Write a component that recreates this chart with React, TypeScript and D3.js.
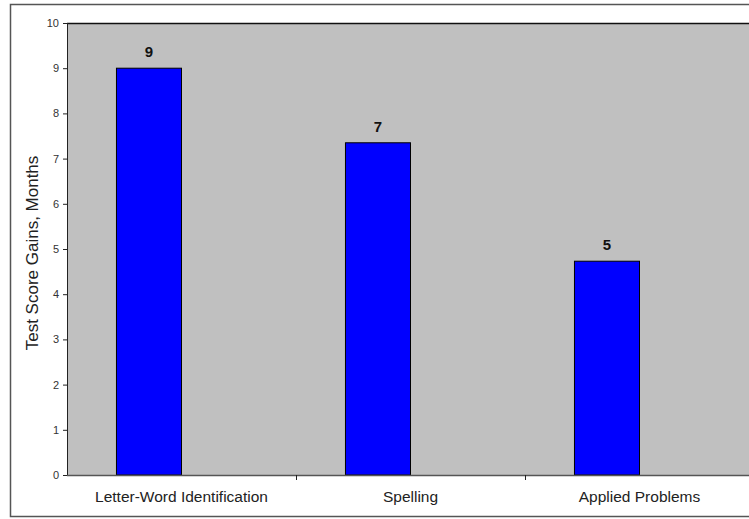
import React from "react";
import * as d3 from "d3";

const categories = ["Letter-Word Identification", "Spelling", "Applied Problems"];
const values = [9.0, 7.35, 4.73];
const valueLabels = ["9", "7", "5"];
const yTicks = [0, 1, 2, 3, 4, 5, 6, 7, 8, 9, 10];
const yTitle = "Test Score Gains, Months";

export default function App() {
  const W = 749, H = 519;
  const left = 67, top = 23, bottom = 475, right = 754;
  const x = d3.scaleBand<string>().domain(categories).range([left, right]).paddingInner(0).paddingOuter(0);
  const y = d3.scaleLinear().domain([0, 10]).range([bottom, top]);
  const bw = x.bandwidth() * 0.284;
  const font = "'Liberation Sans', Arial, sans-serif";
  return (
    <svg width={W} height={H} style={{ position: "absolute", left: 0, top: 0, display: "block" }} fontFamily={font}>
      <rect x={0} y={0} width={W} height={H} fill="#fff" />
      <rect x={10.5} y={4.5} width={W + 10} height={512} fill="#fff" stroke="#555" strokeWidth={1.5} />
      <rect x={left} y={top} width={right - left} height={bottom - top} fill="#c0c0c0" />
      <line x1={left} x2={right} y1={top + 0.5} y2={top + 0.5} stroke="#111" strokeWidth={1.5} />
      {categories.map((c, i) => {
        const cx = x(c)! + x.bandwidth() / 2;
        const bx = cx - bw;
        return (
          <g key={c}>
            <rect x={bx} y={y(values[i])} width={bw} height={bottom - y(values[i])} fill="#0000ff" stroke="#000" strokeWidth={1} />
            <text x={bx + bw / 2} y={y(values[i]) - 11} textAnchor="middle" fontSize={15} fontWeight="bold" fill="#111">{valueLabels[i]}</text>
            <text x={cx} y={502} textAnchor="middle" fontSize={15.5} fill="#222">{c}</text>
          </g>
        );
      })}
      <line x1={left + 0.5} x2={left + 0.5} y1={top} y2={bottom} stroke="#222" strokeWidth={1} />
      <line x1={left} x2={right} y1={bottom + 0.5} y2={bottom + 0.5} stroke="#555" strokeWidth={1.5} />
      {yTicks.map((t) => (
        <g key={t}>
          <line x1={left - 4} x2={left} y1={y(t) + 0.5} y2={y(t) + 0.5} stroke="#222" />
          <text x={left - 8} y={y(t) + 4} textAnchor="end" fontSize={11} fill="#333">{t}</text>
        </g>
      ))}
      {categories.slice(1).map((c) => (
        <line key={c} x1={x(c)! + 0.5} x2={x(c)! + 0.5} y1={bottom} y2={bottom + 5} stroke="#222" />
      ))}
      <text transform={`translate(38,253) rotate(-90)`} textAnchor="middle" fontSize={17} fill="#222">{yTitle}</text>
    </svg>
  );
}
